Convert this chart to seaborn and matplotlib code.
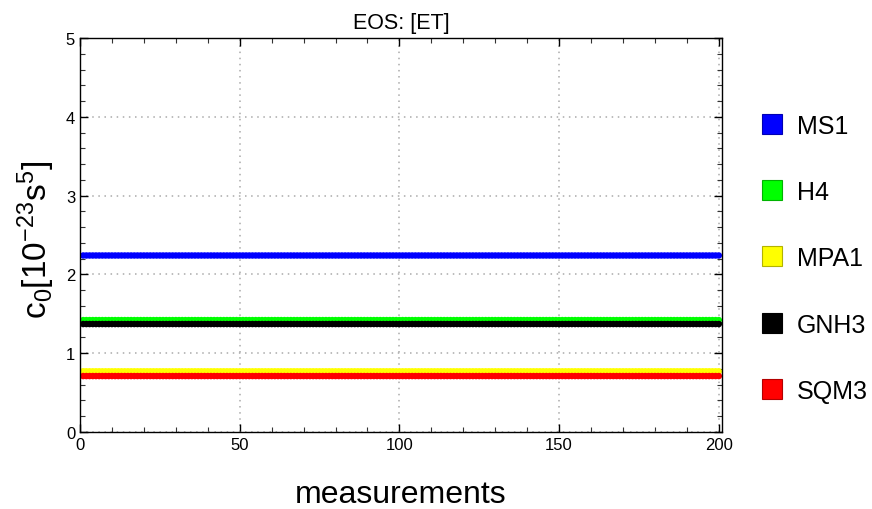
import numpy as np
import pandas as pd
import matplotlib
matplotlib.use("Agg")
import matplotlib.pyplot as plt
import matplotlib.colors as mcolors
import seaborn as sns
from matplotlib.lines import Line2D
from matplotlib.ticker import MultipleLocator

# EOS models and their (constant) c0 values
eos = ["MS1", "H4", "MPA1", "GNH3", "SQM3"]
c0_values = [2.24, 1.42, 0.77, 1.37, 0.71]
colors = ["#0000ff", "#00ff00", "#ffff00", "#000000", "#ff0000"]
measurements = np.arange(1, 201)

rows = []
for name, val in zip(eos, c0_values):
    for m in measurements:
        rows.append({"measurement": m, "c0": val, "EOS": name})
df = pd.DataFrame(rows)

sns.set_style("ticks")
plt.rcParams["font.family"] = ["Liberation Sans", "DejaVu Sans"]
plt.rcParams["mathtext.fontset"] = "custom"
plt.rcParams["mathtext.rm"] = "Liberation Sans"
plt.rcParams["mathtext.it"] = "Liberation Sans:italic"
plt.rcParams["text.color"] = "black"
plt.rcParams["axes.labelcolor"] = "black"
plt.rcParams["xtick.color"] = "black"
plt.rcParams["ytick.color"] = "black"

W, H = 872, 510
fig = plt.figure(figsize=(W / 100, H / 100), dpi=100)
ax = fig.add_axes([80 / W, 1 - 433 / H, 642 / W, 394 / H])

sns.scatterplot(data=df, x="measurement", y="c0", hue="EOS", hue_order=eos,
                palette=dict(zip(eos, colors)), s=22, linewidth=0,
                legend=False, ax=ax)

ax.set_xlim(0, 201)
ax.set_ylim(0, 5)
ax.xaxis.set_major_locator(MultipleLocator(50))
ax.xaxis.set_minor_locator(MultipleLocator(10))
ax.yaxis.set_major_locator(MultipleLocator(1))
ax.yaxis.set_minor_locator(MultipleLocator(0.2))
ax.tick_params(which="both", direction="in", top=True, right=True, labelsize=12)
ax.tick_params(which="major", length=6, width=1)
ax.tick_params(which="minor", length=3.5, width=0.8, color="#333333")
ax.grid(True, which="major", linestyle=(0, (1, 3)), color="#aaaaaa", linewidth=1.1)
for sp in ax.spines.values():
    sp.set_linewidth(1)
    sp.set_color("black")

ax.set_title("EOS: [ET]", fontsize=15.5, pad=7)
ax.set_xlabel("measurements", fontsize=23, va="baseline")
ax.xaxis.set_label_coords(0.5, (433 - 503) / 394)
ax.set_ylabel(r"$\mathrm{c_0[10^{-23}s^5]}$", fontsize=24, va="center", ha="center")
ax.yaxis.set_label_coords((36 - 80) / 642, (433 - 240) / 394)

# legend on the right, one row per EOS
leg_y = [125, 191, 257, 324, 390]
for name, c, yc in zip(eos, colors, leg_y):
    edge = tuple(np.array(mcolors.to_rgb(c)) * 0.7)
    fig.add_artist(Line2D([772 / W], [1 - yc / H], marker="s", markersize=14.4,
                          markerfacecolor=c, markeredgecolor=edge,
                          markeredgewidth=0.8, transform=fig.transFigure))
    fig.text(797 / W, 1 - (yc + 9) / H, name, fontsize=18, va="baseline", ha="left")

fig.savefig("out.png", dpi=100)
